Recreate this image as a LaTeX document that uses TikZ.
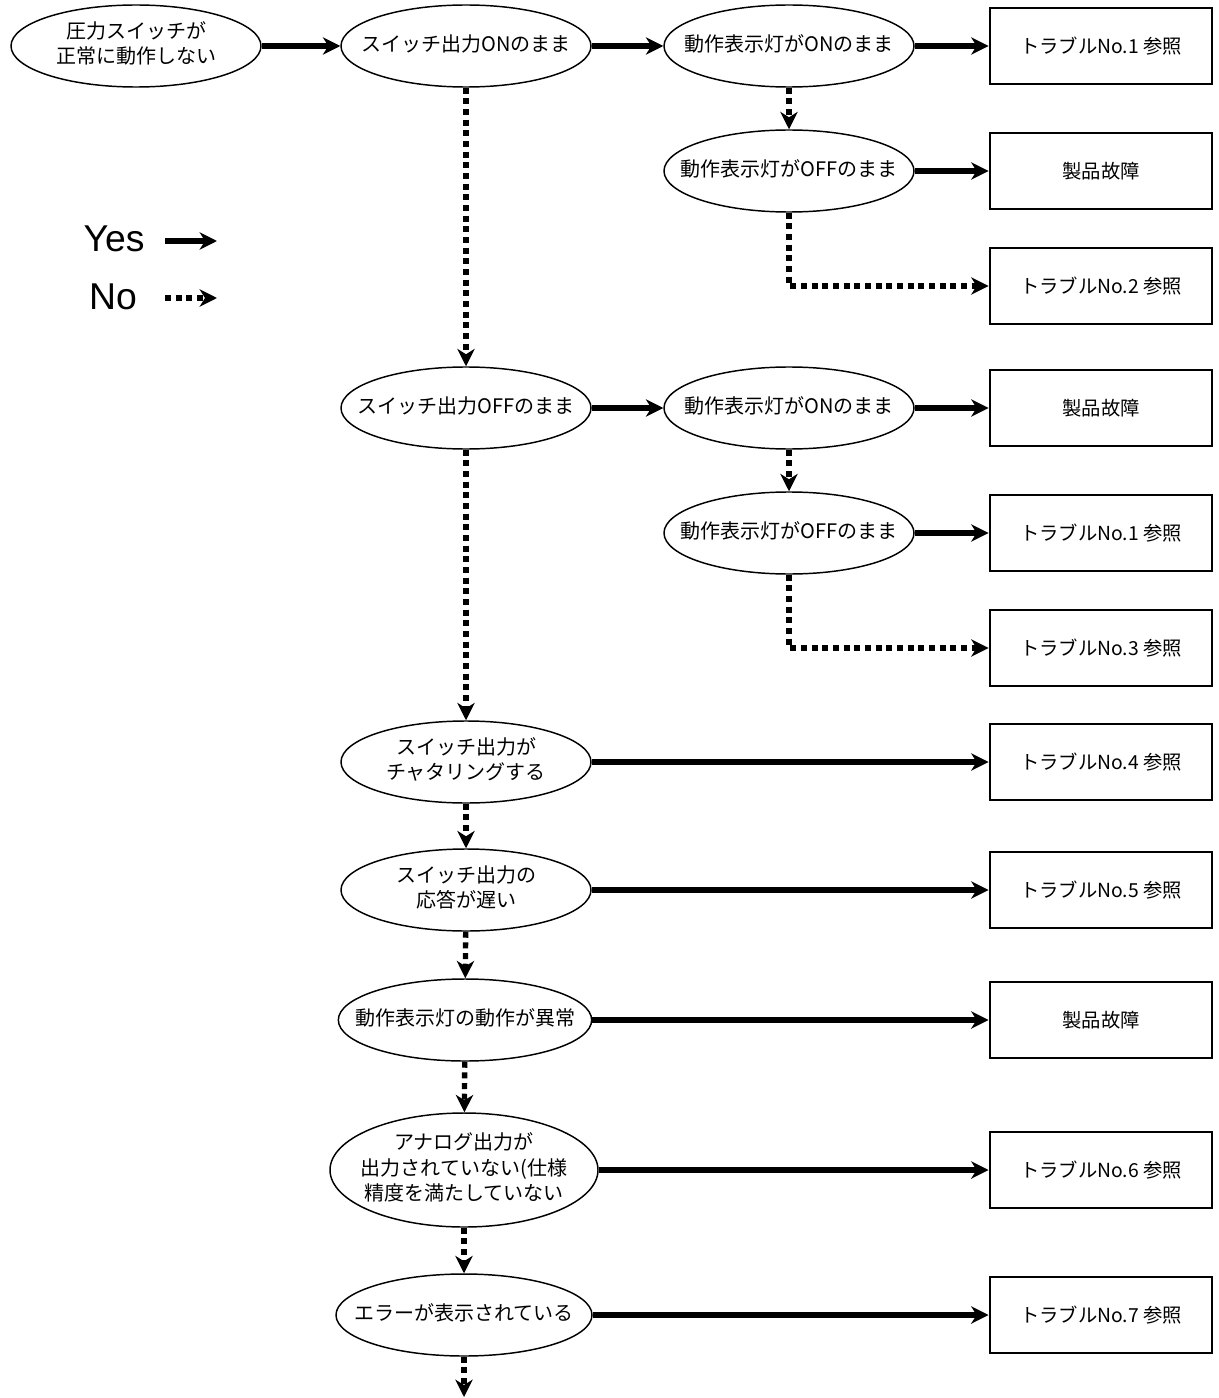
\documentclass[tikz,border=0pt]{standalone}
\usepackage{fontspec}
\setmainfont{Noto Sans CJK JP}
\newfontfamily\legendfont{Liberation Sans}
\usetikzlibrary{positioning,arrows.meta,shapes.geometric}
% text that may run wider than its ellipse
\newcommand\condtext[1]{\makebox[0pt]{\begin{tabular}{@{}c@{}}#1\end{tabular}}}

\begin{document}
\begin{tikzpicture}[x=0.75pt,y=-0.75pt,
  >={Stealth[length=13pt,width=13pt,inset=4pt]},
  cond/.style={draw,ellipse,line width=1.1pt,inner sep=0pt,minimum width=187.5pt,minimum height=61.5pt,font=\fontsize{15}{19}\selectfont},
  res/.style={draw,line width=2.2pt,minimum width=166.5pt,minimum height=57pt,font=\fontsize{14.5}{18}\selectfont},
  legend/.style={font=\legendfont\fontsize{28}{28}\selectfont},
  yes/.style={->,line width=4pt},
  no/.style={->,line width=4pt,dash pattern=on 4.5pt off 3.5pt}]
  \useasboundingbox (0,0) rectangle (1218,1398);

  % legend
  \node[legend] (yesLbl) at (114,239) {Yes};
  \node[legend] (noLbl) at (113,297) {No};
  \coordinate (yesA) at (165,241);
  \coordinate (yesB) at (217,241);
  \coordinate (noA) at (165,298);
  \coordinate (noB) at (217,298);
  \draw[yes] (yesA) -- (yesB);
  \draw[no] (noA) -- (noB);

  % conditions
  \node[cond] (fault) at (136,46) {\condtext{圧力スイッチが\\正常に動作しない}};
  \node[cond] (swOn) at (466,46) {\condtext{スイッチ出力ONのまま}};
  \node[cond] (ledOnA) at (789,46) {\condtext{動作表示灯がONのまま}};
  \node[cond] (ledOffA) at (789,171) {\condtext{動作表示灯がOFFのまま}};
  \node[cond] (swOff) at (466,408) {\condtext{スイッチ出力OFFのまま}};
  \node[cond] (ledOnB) at (789,408) {\condtext{動作表示灯がONのまま}};
  \node[cond] (ledOffB) at (789,533) {\condtext{動作表示灯がOFFのまま}};
  \node[cond] (chatter) at (466,762) {\condtext{スイッチ出力が\\チャタリングする}};
  \node[cond] (slow) at (466,890) {\condtext{スイッチ出力の\\応答が遅い}};
  \node[cond,minimum width=190pt] (ledBad) at (465,1020) {\condtext{動作表示灯の動作が異常}};
  \node[cond,minimum width=201pt,minimum height=85.5pt] (analog) at (464,1170) {\condtext{アナログ出力が\\出力されていない(仕様\\精度を満たしていない}};
  \node[cond,minimum width=192pt] (error) at (464,1315) {\condtext{エラーが表示されている}};
  \coordinate (more) at (464,1397);

  % results
  \node[res] (ref1) at (1101,46) {トラブルNo.1 参照};
  \node[res] (broken1) at (1101,171) {製品故障};
  \node[res] (ref2) at (1101,286) {トラブルNo.2 参照};
  \node[res] (broken2) at (1101,408) {製品故障};
  \node[res] (ref1b) at (1101,533) {トラブルNo.1 参照};
  \node[res] (ref3) at (1101,648) {トラブルNo.3 参照};
  \node[res] (ref4) at (1101,762) {トラブルNo.4 参照};
  \node[res] (ref5) at (1101,890) {トラブルNo.5 参照};
  \node[res] (broken3) at (1101,1020) {製品故障};
  \node[res] (ref6) at (1101,1170) {トラブルNo.6 参照};
  \node[res] (ref7) at (1101,1315) {トラブルNo.7 参照};

  % yes
  \draw[yes] (fault) -- (swOn);
  \draw[yes] (swOn) -- (ledOnA);
  \draw[yes] (ledOnA) -- (ref1);
  \draw[yes] (ledOffA) -- (broken1);
  \draw[yes] (swOff) -- (ledOnB);
  \draw[yes] (ledOnB) -- (broken2);
  \draw[yes] (ledOffB) -- (ref1b);
  \draw[yes] (chatter) -- (ref4);
  \draw[yes] (slow) -- (ref5);
  \draw[yes] (ledBad) -- (broken3);
  \draw[yes] (analog) -- (ref6);
  \draw[yes] (error) -- (ref7);

  % no
  \draw[no] (ledOnA) -- (ledOffA);
  \draw[no] (ledOffA.south) |- (ref2.west);
  \draw[no] (ledOnB) -- (ledOffB);
  \draw[no] (ledOffB.south) |- (ref3.west);
  \draw[no] (swOn) -- (swOff);
  \draw[no] (swOff) -- (chatter);
  \draw[no] (chatter) -- (slow);
  \draw[no] (slow) -- (ledBad);
  \draw[no] (ledBad) -- (analog);
  \draw[no] (analog) -- (error);
  \draw[no] (error) -- (more);
\end{tikzpicture}
\end{document}
